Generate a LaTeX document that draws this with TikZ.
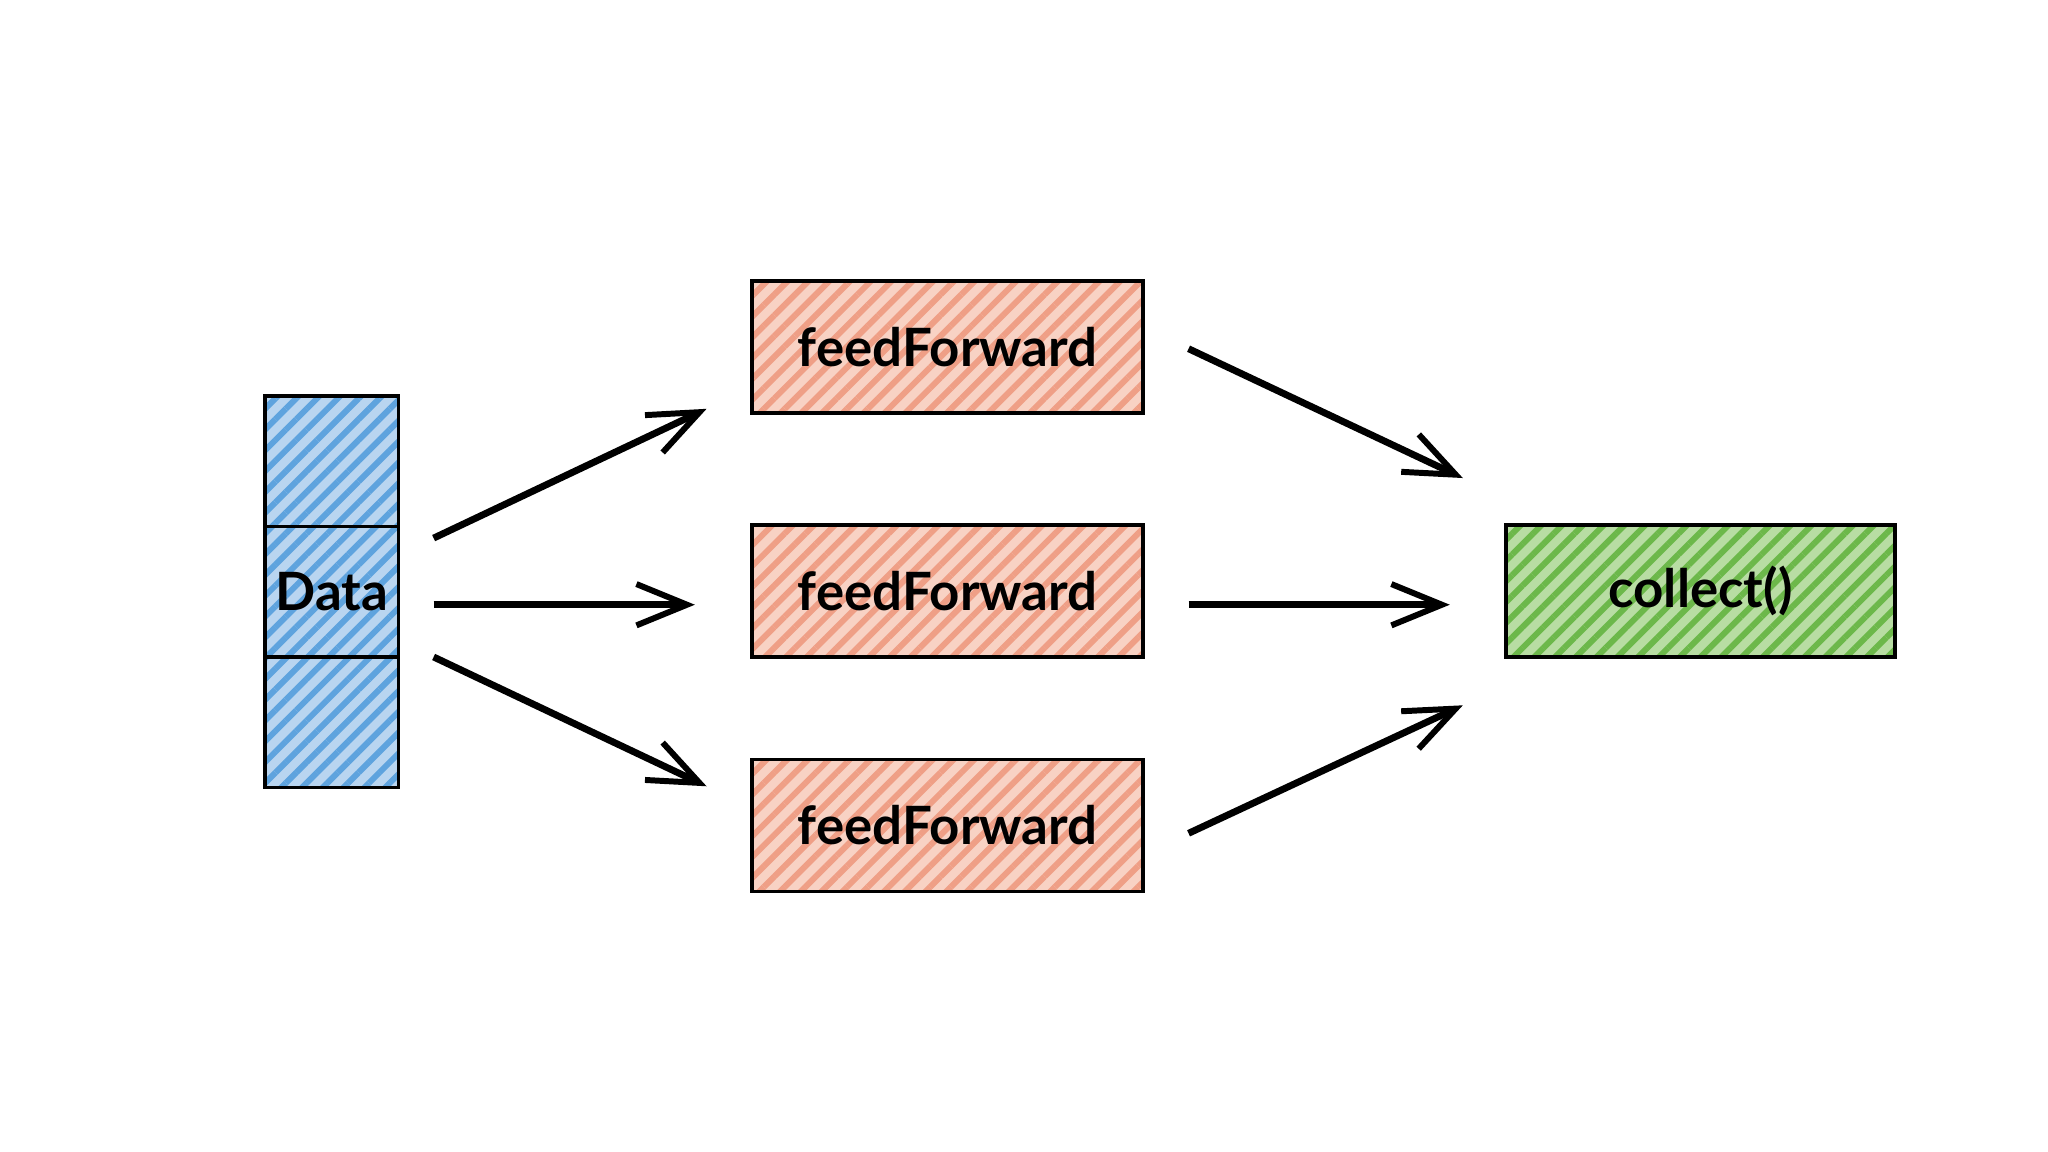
\documentclass[tikz,border=0pt]{standalone}
\usepackage{fontspec}
\setmainfont{Lato}
\usetikzlibrary{arrows.meta,patterns.meta}
\definecolor{bluebg}{HTML}{B9D5F0}\definecolor{bluest}{HTML}{5EA3DE}
\definecolor{redbg}{HTML}{F8D2C4}\definecolor{redst}{HTML}{EF9F86}
\definecolor{grnbg}{HTML}{B8DDA3}\definecolor{grnst}{HTML}{6CB84A}
\begin{document}
\begin{tikzpicture}[x=0.01cm,y=-0.01cm,
 box/.style={inner sep=0pt,font=\bfseries\fontsize{11.5}{14}\selectfont},
 hatch/.style 2 args={fill=#1,postaction={pattern={Lines[angle=45,distance=3.2pt,line width=1.3pt]},pattern color=#2},postaction={draw=black,line width=0.8pt}},
 ff/.style={box,hatch={redbg}{redst},minimum width=299*0.01cm,minimum height=101*0.01cm},
 cell/.style={box,hatch={bluebg}{bluest},minimum width=102*0.01cm,minimum height=100*0.01cm},
 arr/.style={-{Straight Barb[length=11pt,width=9pt,line width=1.3pt]},line width=1.5pt}]
\useasboundingbox (0,0) rectangle (1568,882);
\node[cell] (d1) at (254,353) {};
\node[cell] (data) at (254,453) {Data};
\node[cell] (d3) at (254,553) {};
\node[ff] (f1) at (725.5,265.5) {feedForward};
\node[ff] (f2) at (725.5,452.5) {feedForward};
\node[ff] (f3) at (725.5,632) {feedForward};
\node[box,hatch={grnbg}{grnst},minimum width=298*0.01cm,minimum height=101*0.01cm] (c) at (1302,452.5) {collect()};
\coordinate (a1s) at (332,412); \coordinate (a1e) at (541,313);
\coordinate (a2s) at (332,463); \coordinate (a2e) at (532,463);
\coordinate (a3s) at (332,503); \coordinate (a3e) at (541,602);
\coordinate (b1s) at (910,267); \coordinate (b1e) at (1120,366);
\coordinate (b2s) at (910,463); \coordinate (b2e) at (1110,463);
\coordinate (b3s) at (910,638); \coordinate (b3e) at (1120,540);
\draw[arr] (a1s) -- (a1e);
\draw[arr] (a2s) -- (a2e);
\draw[arr] (a3s) -- (a3e);
\draw[arr] (b1s) -- (b1e);
\draw[arr] (b2s) -- (b2e);
\draw[arr] (b3s) -- (b3e);
\end{tikzpicture}
\end{document}
